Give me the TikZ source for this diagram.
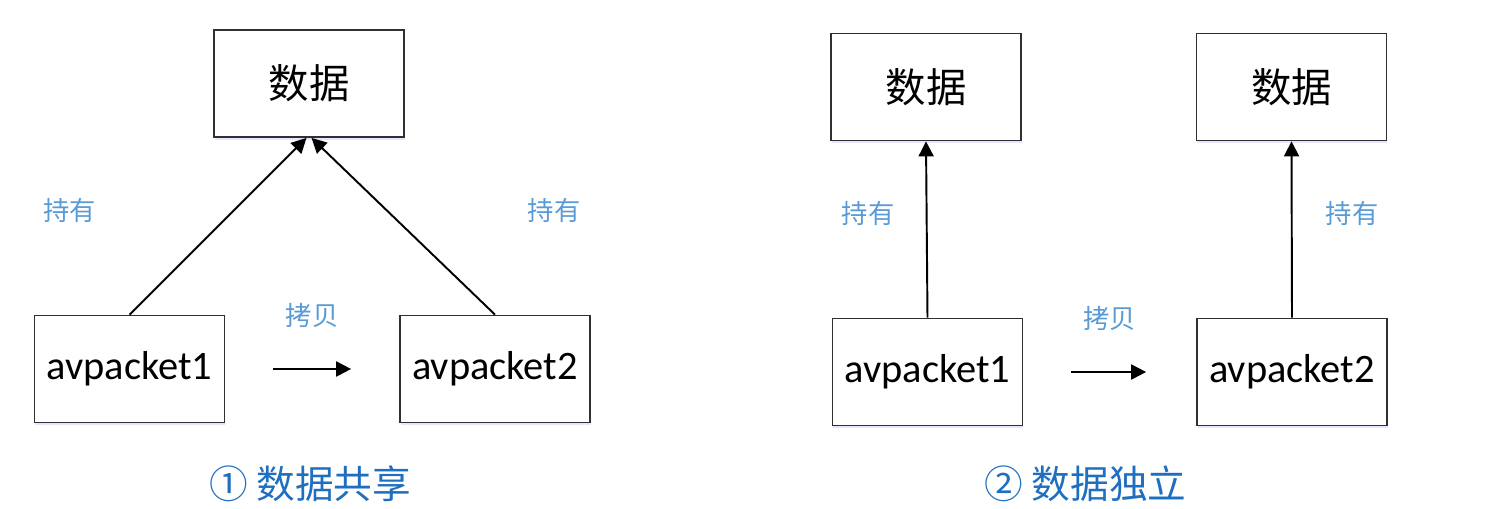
\documentclass[tikz,border=0pt]{standalone}
\usepackage{fontspec}
\setmainfont{Carlito}
\newfontfamily\cjk{Noto Sans CJK SC}
\usetikzlibrary{arrows.meta,positioning,shadows}
\definecolor{lblblue}{HTML}{5B9BD5}
\definecolor{capblue}{HTML}{1F6FC0}
\definecolor{boxline}{HTML}{303030}

\begin{document}
\begin{tikzpicture}[line width=1.1pt,
   x=0.02cm, y=-0.02cm,
   link/.style={-{Triangle[length=0.3cm,width=0.3cm]}},
   box/.style={draw=boxline, line width=1pt, fill=white, minimum width=3.8cm,
     minimum height=2.14cm, inner sep=0pt, font=\fontsize{23}{28}\selectfont,
     drop shadow={shadow xshift=0.5pt, shadow yshift=-1.5pt, fill=blue!20, opacity=0.5}},
   lbl/.style={text=lblblue, inner sep=0pt, font=\cjk\fontsize{15}{18}\selectfont},
   caption/.style={text=capblue, inner sep=0pt, font=\cjk\fontsize{22}{26}\selectfont}]
  \useasboundingbox (0,0) rectangle (1492,508);
  % shared data
  \node[box] (d1) at (309, 83.5) {\cjk 数据};
  \node[box] (a1) at (129.5, 369) {avpacket1};
  \node[box] (a2) at (495, 369) {avpacket2};
  \node[lbl] (h1) at (70, 210) {持有};
  \node[lbl] (h2) at (554, 210) {持有};
  \path (a1.north) edge[link] ([xshift=-0.05cm]d1.south);
  \path (a2.north) edge[link] ([xshift=0.05cm]d1.south);
  \path (a1) edge[link, shorten <=0.96cm, shorten >=0.96cm] node[lbl, above=0.8cm] {拷贝} (a2);
  \node[caption] (c1) at (310, 484) {① 数据共享};
  % separate data
  \node[box] (d3) at (926, 87) {\cjk 数据};
  \node[box] (d4) at (1291.5, 87) {\cjk 数据};
  \node[box] (a3) at (927.5, 372) {avpacket1};
  \node[box] (a4) at (1292, 372) {avpacket2};
  \node[lbl] (h3) at (868, 213) {持有};
  \node[lbl] (h4) at (1352, 213) {持有};
  \path (a3.north) edge[link] (d3.south);
  \path (a4.north) edge[link] (d4.south);
  \path (a3) edge[link, shorten <=0.96cm, shorten >=1cm] node[lbl, above=0.8cm] {拷贝} (a4);
  \node[caption] (c2) at (1085.5, 484) {② 数据独立};
\end{tikzpicture}
\end{document}
